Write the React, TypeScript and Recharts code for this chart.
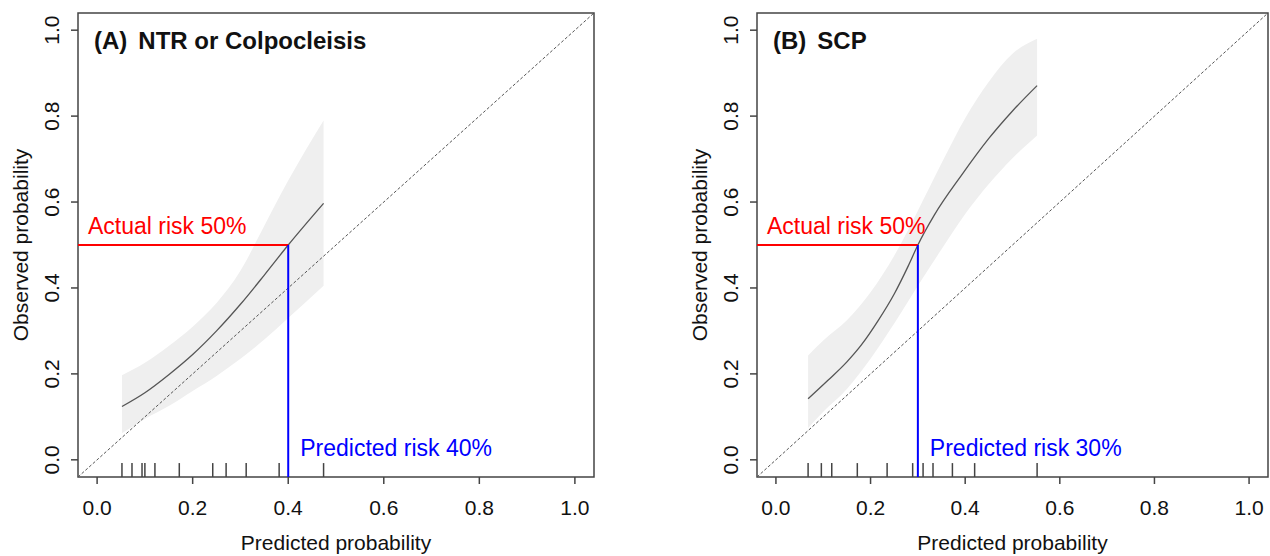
import React from 'react';
import {
  ComposedChart,
  Area,
  Line,
  XAxis,
  YAxis,
  ReferenceLine,
  ReferenceArea,
  ReferenceDot,
} from 'recharts';

const FONT = '"Liberation Sans", Arial, Helvetica, sans-serif';

// axis
const axisTicks = [0, 0.2, 0.4, 0.6, 0.8, 1.0];
const axisMin = -0.04;
const axisMax = 1.04;
const rugLength = 0.0324;

// Panel A: NTR or Colpocleisis
const predA = [0.052, 0.1, 0.15, 0.2, 0.25, 0.3, 0.35, 0.4, 0.474];
const obsA = [0.124, 0.156, 0.198, 0.245, 0.3, 0.362, 0.43, 0.5, 0.597];
const bandXA = [0.052, 0.1, 0.15, 0.2, 0.25, 0.3, 0.35, 0.4, 0.474];
const lowerA = [0.062, 0.095, 0.125, 0.16, 0.195, 0.235, 0.28, 0.33, 0.405];
const upperA = [0.197, 0.226, 0.265, 0.31, 0.365, 0.44, 0.545, 0.65, 0.79];
const rugA = [0.052, 0.073, 0.094, 0.1, 0.121, 0.172, 0.242, 0.27, 0.312, 0.381, 0.474];

// Panel B: SCP
const predB = [0.068, 0.11, 0.15, 0.181, 0.216, 0.25, 0.28, 0.3, 0.335, 0.392, 0.45, 0.5, 0.552];
const obsB = [0.142, 0.185, 0.228, 0.268, 0.324, 0.386, 0.452, 0.5, 0.57, 0.662, 0.748, 0.812, 0.871];
const bandXB = [0.068, 0.1, 0.15, 0.2, 0.25, 0.3, 0.35, 0.4, 0.45, 0.5, 0.552];
const lowerB = [0.074, 0.112, 0.165, 0.235, 0.317, 0.405, 0.49, 0.572, 0.642, 0.702, 0.755];
const upperB = [0.243, 0.278, 0.325, 0.39, 0.475, 0.58, 0.69, 0.795, 0.88, 0.945, 0.98];
const rugB = [0.068, 0.096, 0.118, 0.172, 0.235, 0.289, 0.311, 0.332, 0.373, 0.42, 0.552];

const tagA = '(A)';
const titleA = 'NTR or Colpocleisis';
const tagB = '(B)';
const titleB = 'SCP';
const actualRisk = 0.5;
const predictedRiskA = 0.4;
const predictedRiskB = 0.3;
const actualLabel = 'Actual risk 50%';
const predictedLabelA = 'Predicted risk 40%';
const predictedLabelB = 'Predicted risk 30%';
const xTitle = 'Predicted probability';
const yTitle = 'Observed probability';

const XTick = (p: any) => (
  <text x={p.x} y={p.y + 31} textAnchor="middle" fontSize={21} fontFamily={FONT} fill="#111">
    {Number(p.payload.value).toFixed(1)}
  </text>
);

const YTick = (p: any) => {
  const bx = p.x - 12;
  return (
    <text
      x={bx}
      y={p.y}
      transform={`rotate(-90, ${bx}, ${p.y})`}
      textAnchor="middle"
      fontSize={21}
      fontFamily={FONT}
      fill="#111"
    >
      {Number(p.payload.value).toFixed(1)}
    </text>
  );
};

type PanelProps = {
  pred: number[];
  obs: number[];
  bandX: number[];
  lower: number[];
  upper: number[];
  rug: number[];
  tag: string;
  title: string;
  predictedRisk: number;
  predictedLabel: string;
  left: number;
  width: number;
};

const Panel = ({
  pred,
  obs,
  bandX,
  lower,
  upper,
  rug,
  tag,
  title,
  predictedRisk,
  predictedLabel,
  left,
  width,
}: PanelProps) => {
  const curveRows = pred.map((x, i) => ({ x, obs: obs[i] }));
  const bandRows = bandX.map((x, i) => ({ x, band: [lower[i], upper[i]] }));
  return (
    <div style={{ position: 'absolute', left, top: 0 }}>
      <ComposedChart
        width={width}
        height={556}
        data={curveRows}
        margin={{ top: 13, right: 7, bottom: 0, left: 0 }}
      >
        <XAxis
          type="number"
          dataKey="x"
          domain={[axisMin, axisMax]}
          allowDataOverflow
          ticks={axisTicks}
          interval={0}
          axisLine={false}
          tickLine={{ stroke: '#444', strokeWidth: 1.5 }}
          tickSize={7}
          tickMargin={0}
          height={79}
          tick={XTick}
        />
        <YAxis
          type="number"
          domain={[axisMin, axisMax]}
          allowDataOverflow
          ticks={axisTicks}
          interval={0}
          axisLine={false}
          tickLine={{ stroke: '#444', strokeWidth: 1.5 }}
          tickSize={7}
          tickMargin={0}
          width={78}
          tick={YTick}
        />
        <Area
          data={bandRows}
          dataKey="band"
          type="monotone"
          fill="#efefef"
          fillOpacity={1}
          stroke="none"
          isAnimationActive={false}
        />
        <ReferenceLine
          segment={[{ x: axisMin, y: axisMin }, { x: axisMax, y: axisMax }]}
          stroke="#555"
          strokeWidth={1}
          strokeDasharray="3 2"
          ifOverflow="visible"
        />
        <Line
          data={curveRows}
          dataKey="obs"
          type="monotone"
          stroke="#555"
          strokeWidth={1.3}
          dot={false}
          isAnimationActive={false}
        />
        {rug.map((r, i) => (
          <ReferenceLine
            key={'rug' + i}
            segment={[{ x: r, y: axisMin }, { x: r, y: axisMin + rugLength }]}
            stroke="#444"
            strokeWidth={1.5}
            ifOverflow="visible"
          />
        ))}
        <ReferenceLine
          segment={[{ x: axisMin, y: actualRisk }, { x: predictedRisk, y: actualRisk }]}
          stroke="#ff0000"
          strokeWidth={2}
          ifOverflow="visible"
        />
        <ReferenceLine
          segment={[{ x: predictedRisk, y: actualRisk }, { x: predictedRisk, y: axisMin }]}
          stroke="#0000ff"
          strokeWidth={2}
          ifOverflow="visible"
        />
        <ReferenceArea
          x1={axisMin}
          x2={axisMax}
          y1={axisMin}
          y2={axisMax}
          fill="none"
          stroke="#444"
          strokeWidth={1.5}
          ifOverflow="visible"
        />
        <ReferenceDot
          x={axisMin}
          y={actualRisk}
          r={0}
          ifOverflow="visible"
          shape={(p: any) => (
            <text x={p.cx + 10} y={p.cy - 11} fill="#ff0000" fontSize={23} fontFamily={FONT}>
              {actualLabel}
            </text>
          )}
        />
        <ReferenceDot
          x={predictedRisk}
          y={axisMin}
          r={0}
          ifOverflow="visible"
          shape={(p: any) => (
            <text x={p.cx + 12} y={p.cy - 21} fill="#0000ff" fontSize={23} fontFamily={FONT}>
              {predictedLabel}
            </text>
          )}
        />
        <ReferenceDot
          x={axisMin}
          y={axisMax}
          r={0}
          ifOverflow="visible"
          shape={(p: any) => (
            <text x={p.cx + 16} y={p.cy + 36} fill="#111" fontSize={24} fontWeight="bold" fontFamily={FONT}>
              <tspan>{tag}</tspan>
              <tspan dx={11}>{title}</tspan>
            </text>
          )}
        />
        <ReferenceDot
          x={(axisMin + axisMax) / 2}
          y={axisMin}
          r={0}
          ifOverflow="visible"
          shape={(p: any) => (
            <text x={p.cx} y={p.cy + 73} textAnchor="middle" fill="#111" fontSize={21} fontFamily={FONT}>
              {xTitle}
            </text>
          )}
        />
        <ReferenceDot
          x={axisMin}
          y={(axisMin + axisMax) / 2}
          r={0}
          ifOverflow="visible"
          shape={(p: any) => (
            <text
              x={p.cx - 50}
              y={p.cy}
              transform={`rotate(-90, ${p.cx - 50}, ${p.cy})`}
              textAnchor="middle"
              fill="#111"
              fontSize={21}
              fontFamily={FONT}
            >
              {yTitle}
            </text>
          )}
        />
      </ComposedChart>
    </div>
  );
};

export default function App() {
  return (
    <div
      style={{
        position: 'absolute',
        left: 0,
        top: 0,
        width: 1270,
        height: 556,
        overflow: 'hidden',
        background: '#fff',
      }}
    >
      <Panel
        pred={predA}
        obs={obsA}
        bandX={bandXA}
        lower={lowerA}
        upper={upperA}
        rug={rugA}
        tag={tagA}
        title={titleA}
        predictedRisk={predictedRiskA}
        predictedLabel={predictedLabelA}
        left={0}
        width={601}
      />
      <Panel
        pred={predB}
        obs={obsB}
        bandX={bandXB}
        lower={lowerB}
        upper={upperB}
        rug={rugB}
        tag={tagB}
        title={titleB}
        predictedRisk={predictedRiskB}
        predictedLabel={predictedLabelB}
        left={679}
        width={596}
      />
    </div>
  );
}
